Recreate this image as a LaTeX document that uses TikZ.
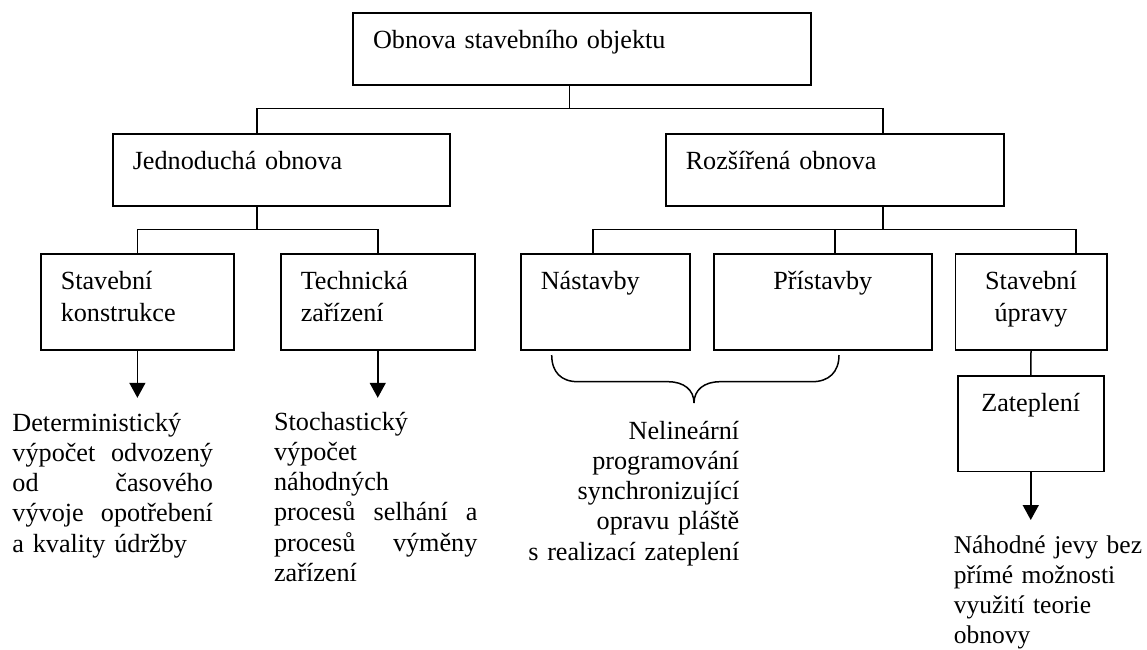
\documentclass[tikz,border=0pt]{standalone}
\usepackage{fontspec}
\setmainfont{Liberation Serif}
\usetikzlibrary{arrows.meta}
\newcommand{\txtsize}{\fontsize{26.2}{30.3}\selectfont}

\begin{document}
\begin{tikzpicture}[x=1pt,y=-1pt,line width=1.5pt]
			\tikzset{every node/.style={font=\txtsize}}
			\tikzset{box/.style={draw,anchor=north west,inner xsep=20pt,inner ysep=0pt,text height=35.5pt,align=left,font=\fontsize{26.2}{31.7}\selectfont}}
			\tikzset{low/.style={text depth=36.5pt}}
			\tikzset{high/.style={text depth=60.5pt}}
			\tikzset{note/.style={inner sep=0pt,align=left}}
			\tikzset{arr/.style={-{Triangle[width=16pt,length=15pt]}}}
			\useasboundingbox (0,0) rectangle (1147,649);
			\node[box,low,text width=417.7pt] (top) at (352.3,12.3) {Obnova stavebního objektu};
			\node[box,low,text width=297pt] (jedn) at (112,133) {Jednoduchá obnova};
			\node[box,low,text width=298pt] (rozs) at (665,133) {Rozšířená obnova};
			\node[box,high,text width=153.3pt] (stkon) at (40,253.3) {Stavební\\konstrukce};
			\node[box,high,text width=154pt] (tech) at (280,253.3) {Technická\\zařízení};
			\node[box,high,text width=129pt] (nast) at (520,253.3) {Nástavby};
			\node[box,high,text width=178pt,align=center] (prist) at (713,253.3) {Přístavby};
			\node[box,high,text width=111.5pt,align=center] (upr) at (954.5,253.3) {Stavební\\úpravy};
			\node[box,text depth=60pt,text width=106pt,align=center] (zat) at (957,375) {Zateplení};
			\foreach \n/\dx in {jedn/-24.5,rozs/48}
				\draw ([xshift=-12.4]top.south) |- ([xshift=\dx,yshift=24.5]\n.north) -- ([xshift=\dx]\n.north);
			\foreach \n in {stkon,tech}
				\draw ([xshift=-24.5]jedn.south) |- ([yshift=24]\n.north) -- (\n.north);
			\foreach \n/\dx in {nast/-12.5,prist/12,upr/44.8}
				\draw ([xshift=48]rozs.south) |- ([xshift=\dx,yshift=24]\n.north) -- ([xshift=\dx]\n.north);
			\draw (upr.south) -- (zat.north);
			\draw[arr] (stkon.south) -- ++(0,47);
			\draw[arr] (tech.south) -- ++(0,47);
			\draw[arr] (zat.south) -- ++(0,48);
			\draw (551.7,355) .. controls (551.7,372) and (561,381.7) .. (578,381.7) -- (668,381.7)
				.. controls (684,381.7) and (694,390) .. (694,403) .. controls (694,390) and (704,381.7) .. (720,381.7)
				-- (812,381.7) .. controls (829,381.7) and (839,372) .. (839,355);
			\node[note,anchor=base west,text width=200.5pt] (det) at (11.7,431) {Deterministický\\výpočet\hfill odvozený\\od\hfill časového\\vývoje\hfill opotřebení\\a kvality údržby};
			\node[note,anchor=base west,text width=203.4pt] (sto) at (273.3,430) {Stochastický\\výpočet\\náhodných\\procesů\hfill selhání\hfill a\\procesů\hfill výměny\\zařízení};
			\node[note,anchor=base east,text width=215pt,align=right] (nel) at (740,439) {Nelineární\\programování\\synchronizující\\opravu pláště\\s realizací zateplení};
			\node[note,anchor=base west,text width=193pt,font=\fontsize{25.5}{30}\selectfont] (nah) at (953,553) {Náhodné jevy bez\\přímé možnosti\\využití teorie\\obnovy};
		\end{tikzpicture}
\end{document}
